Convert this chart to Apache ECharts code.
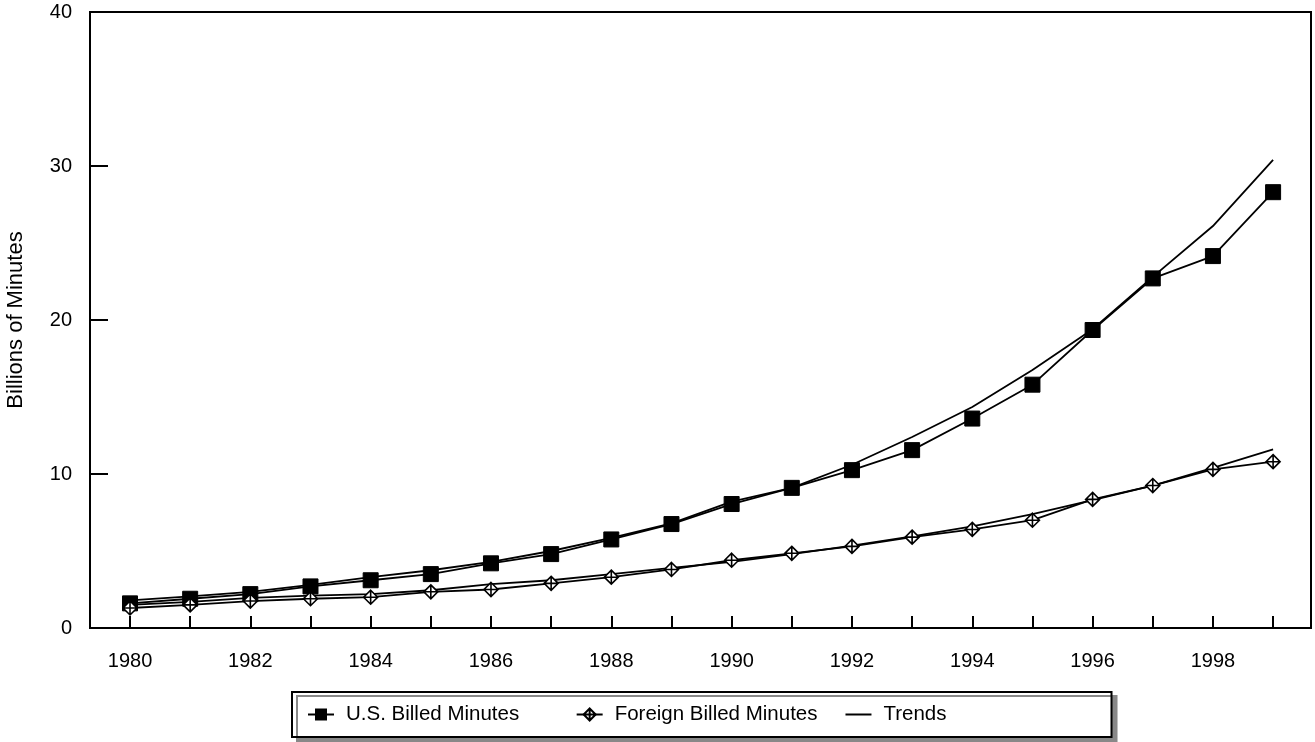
<!DOCTYPE html>
<html>
<head>
<meta charset="utf-8">
<script src="https://cdn.jsdelivr.net/npm/echarts@6/dist/echarts.min.js"></script>
<style>
html,body{margin:0;padding:0;background:#fff;}
#chart{width:1315px;height:742px;}
</style>
</head>
<body>
<div id="chart"></div>
<script>
var years = [1980,1981,1982,1983,1984,1985,1986,1987,1988,1989,1990,1991,1992,1993,1994,1995,1996,1997,1998,1999];
var usBilled = [1.6,1.9,2.2,2.7,3.1,3.5,4.2,4.8,5.75,6.75,8.05,9.1,10.25,11.55,13.6,15.8,19.35,22.7,24.15,28.3];
var foreignBilled = [1.3,1.5,1.75,1.9,2.0,2.35,2.5,2.9,3.3,3.8,4.4,4.85,5.3,5.9,6.4,7.0,8.35,9.25,10.3,10.8];
var usTrend = [1.8,2.05,2.35,2.8,3.3,3.75,4.3,5.0,5.85,6.8,8.2,9.1,10.6,12.4,14.35,16.75,19.4,22.8,26.1,30.4];
var foreignTrend = [1.5,1.7,1.95,2.1,2.2,2.45,2.85,3.1,3.5,3.9,4.3,4.8,5.35,5.95,6.6,7.4,8.3,9.25,10.4,11.6];
var xLabelYears = [1980,1982,1984,1986,1988,1990,1992,1994,1996,1998];
var yTicks = [0,10,20,30,40];

function pairs(vals){ return years.map(function(y,i){ return [y, vals[i]]; }); }

var FONT = '"Liberation Sans", Arial, sans-serif';
var diamondCross = 'path://M10,0 L20,10 L10,20 L0,10 Z M10,0 L10,20 M0,10 L20,10';
var lineIcon = 'path://M0,0 L26,0 L26,2 L0,2 Z';

var chart = echarts.init(document.getElementById('chart'), null, {renderer:'canvas'});
chart.setOption({
  animation: false,
  backgroundColor: '#fff',
  grid: {left: 90, right: 4, top: 12, bottom: 114, outerBoundsMode: 'none', containLabel: false,
         show: true, borderColor: '#000', borderWidth: 2, backgroundColor: 'transparent'},
  xAxis: {
    type: 'value',
    min: 1979.335, max: 1999.63,
    splitLine: {show: false},
    axisLine: {show: true, onZero: false, lineStyle: {color: '#000', width: 2}},
    axisTick: {show: true, inside: true, length: 12, customValues: years, lineStyle: {color: '#000', width: 2}},
    axisLabel: {customValues: xLabelYears, color: '#000', fontSize: 20, fontFamily: FONT, margin: 23, formatter: function(v){ return String(v); }}
  },
  yAxis: {
    type: 'value',
    min: 0, max: 40, interval: 10,
    name: 'Billions of Minutes',
    nameLocation: 'middle',
    nameGap: 63,
    nameRotate: 90,
    nameTextStyle: {color: '#000', fontSize: 22, fontFamily: FONT},
    splitLine: {show: false},
    axisLine: {show: true, lineStyle: {color: '#000', width: 2}},
    axisTick: {show: true, inside: true, length: 18, lineStyle: {color: '#000', width: 2}},
    axisLabel: {color: '#000', fontSize: 20, fontFamily: FONT, margin: 18}
  },
  legend: {
    data: [
      {name: 'U.S. Billed Minutes'},
      {name: 'Foreign Billed Minutes'},
      {name: 'Trends', icon: lineIcon, itemStyle: {color: '#000'}}
    ],
    formatter: function(name){
      return name === 'U.S. Billed Minutes'
        ? '{t|' + name + '}{g|\u00a0\u00a0\u00a0\u00a0\u00a0}'
        : '{t|' + name + '}';
    },
    left: 292, top: 692,
    orient: 'horizontal',
    padding: [12, 165, 12, 15],
    itemGap: 28,
    itemWidth: 26, itemHeight: 15,
    backgroundColor: '#fff',
    borderColor: '#000', borderWidth: 2, borderRadius: 0,
    shadowColor: '#888', shadowBlur: 0, shadowOffsetX: 5, shadowOffsetY: 4,
    textStyle: {color: '#000', fontSize: 20.5, fontFamily: FONT, padding: [0,0,0,7],
      rich: {
        t: {color: '#000', fontSize: 20.5, fontFamily: FONT},
        g: {fontSize: 20.5, fontFamily: FONT}
      }
    }
  },
  series: [
    {name: 'Trends', type: 'line', data: pairs(usTrend), symbol: 'none', showSymbol: false, z: 2,
     lineStyle: {color: '#000', width: 1.8}, itemStyle: {color: '#000'}},
    {name: 'Trends', type: 'line', data: pairs(foreignTrend), symbol: 'none', showSymbol: false, z: 2,
     lineStyle: {color: '#000', width: 1.8}, itemStyle: {color: '#000'}},
    {name: 'U.S. Billed Minutes', type: 'line', data: pairs(usBilled), symbol: 'rect', symbolSize: 15, z: 3,
     lineStyle: {color: '#000', width: 1.8}, itemStyle: {color: '#000', borderColor: '#000'}},
    {name: 'Foreign Billed Minutes', type: 'line', data: pairs(foreignBilled), symbol: diamondCross, symbolSize: 14, z: 3,
     lineStyle: {color: '#000', width: 1.8}, itemStyle: {color: '#fff', borderColor: '#000', borderWidth: 1.6}}
  ]
});
</script>
</body>
</html>
